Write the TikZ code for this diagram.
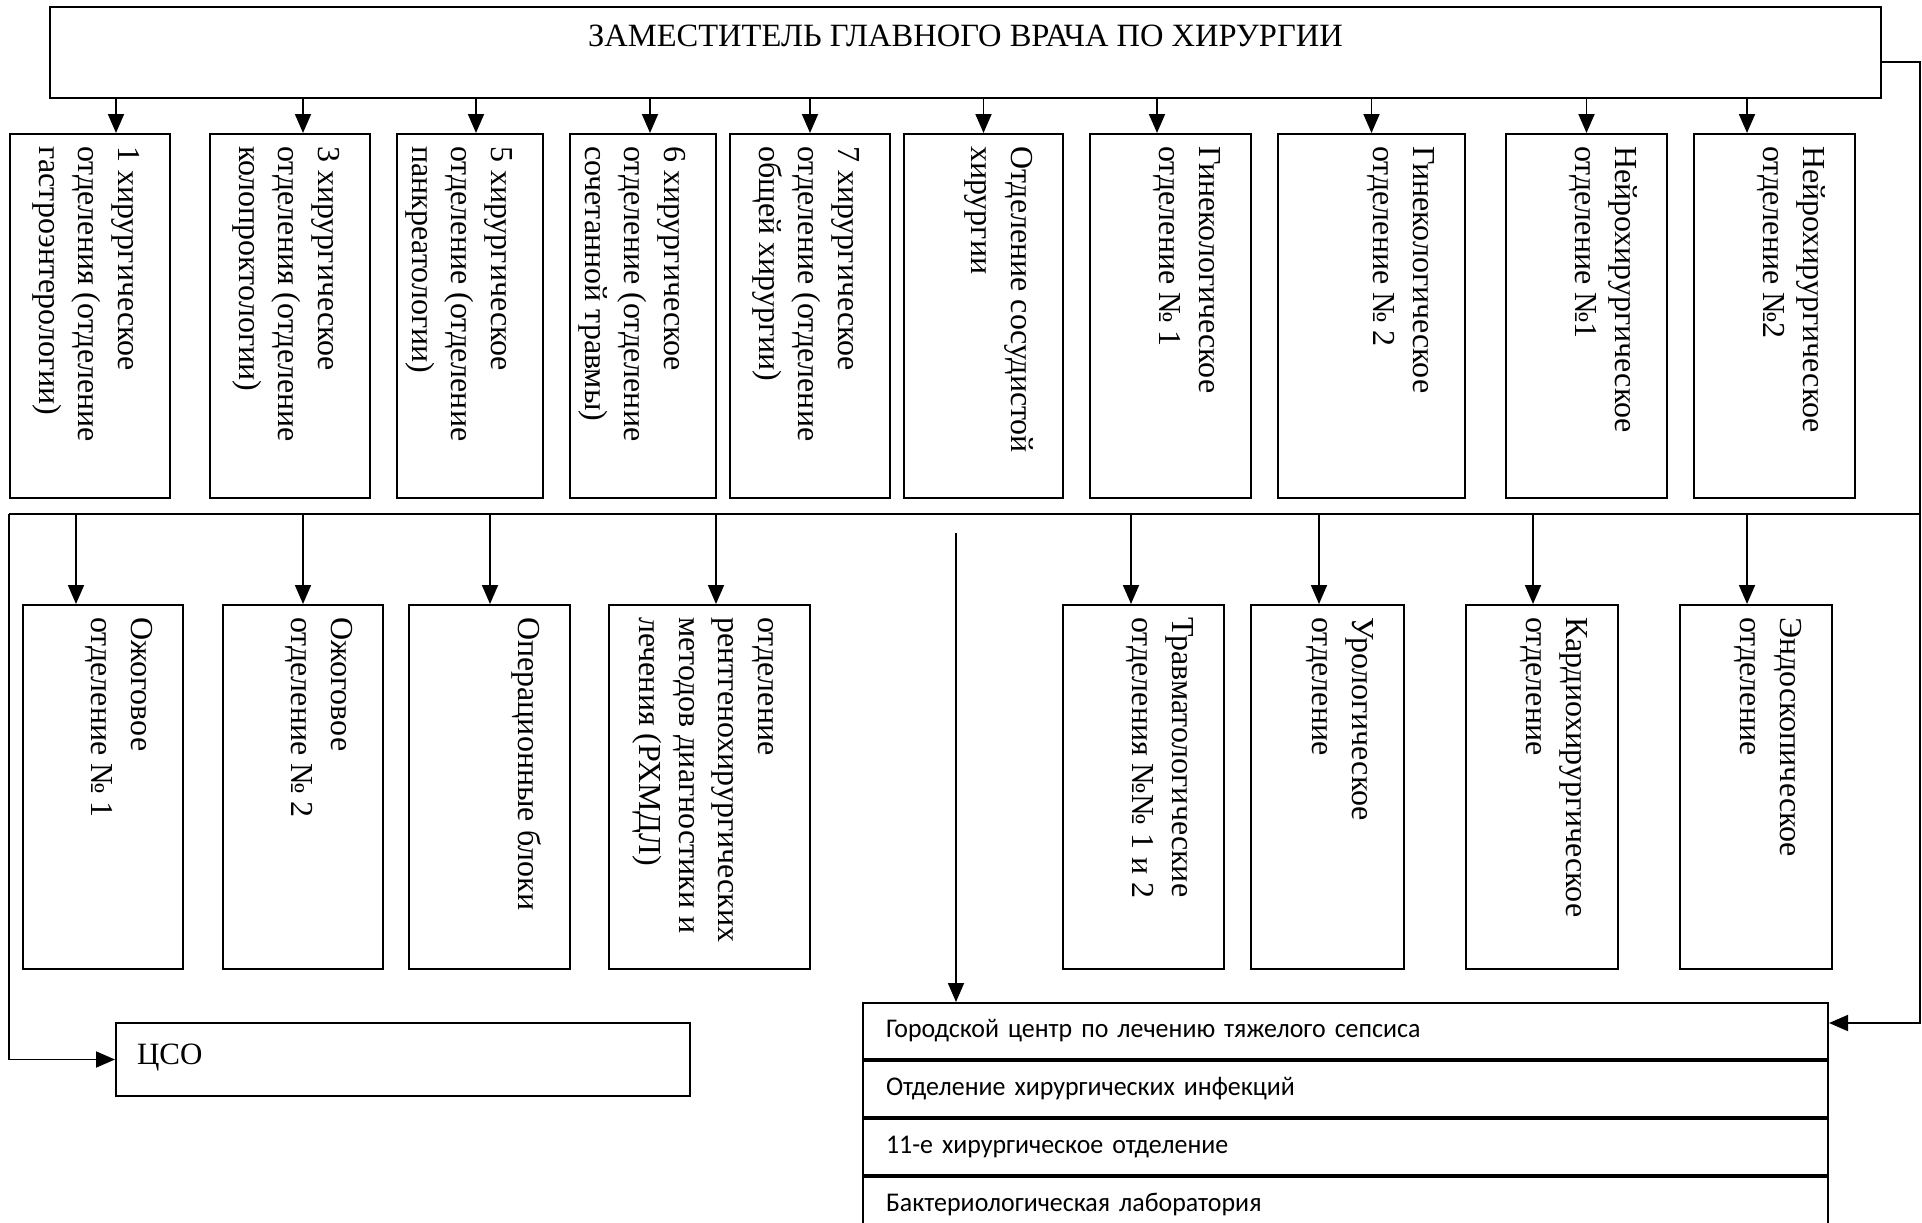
\documentclass[tikz,border=0pt]{standalone}
\usepackage{fontspec}
\setmainfont{Liberation Serif}
\newfontfamily\calfont[FakeStretch=0.96]{Carlito}
\usetikzlibrary{arrows.meta,calc}
\begin{document}
\begin{tikzpicture}[x=1pt,y=-1pt,
  box/.style={draw, line width=2pt, anchor=north west, inner sep=0pt, minimum height=364pt},
  vtext/.style={rotate=-90, anchor=north west, align=left, inner sep=0pt, font=\fontsize{32}{39.5}\selectfont},
  ln/.style={line width=1.8pt},
  arr/.style={line width=1.8pt, -{Triangle[length=19pt,width=16pt]}},
  row/.style={draw, line width=2pt, anchor=north west, inner xsep=23pt, inner ysep=0pt,
    text height=34pt, text depth=22pt, text width=919pt, align=left,
    font=\calfont\fontsize{27}{34}\selectfont}
]
\path[use as bounding box] (0,0) rectangle (1922,1223);
\clip (0,0) rectangle (1922,1223);

% top box
\node[draw, line width=2pt, anchor=north west, inner sep=0pt, minimum width=1831pt, minimum height=91pt] (top) at (49,6) {};
\node[anchor=base, inner sep=0pt, font=\fontsize{32.5}{38}\selectfont] (topt) at ([yshift=-41pt]top.north) {ЗАМЕСТИТЕЛЬ ГЛАВНОГО ВРАЧА ПО ХИРУРГИИ};

% row 1
\node[box, minimum width=160pt] (b1) at (9,133) {};
\node[box, minimum width=160pt] (b3) at (209,133) {};
\node[box, minimum width=146pt] (b5) at (396,133) {};
\node[box, minimum width=146pt] (b6) at (569,133) {};
\node[box, minimum width=160pt] (b7) at (729,133) {};
\node[box, minimum width=159pt] (bs) at (903,133) {};
\node[box, minimum width=161pt] (g1) at (1089,133) {};
\node[box, minimum width=187pt] (g2) at (1277,133) {};
\node[box, minimum width=161pt] (n1) at (1505,133) {};
\node[box, minimum width=161pt] (n2) at (1693,133) {};

\node[vtext] (b1t) at ([shift={(-25pt,-13pt)}]b1.north east) {\strut 1 хирургическое\\отделения (отделение\\гастроэнтерологии)};
\node[vtext] (b3t) at ([shift={(-25pt,-13pt)}]b3.north east) {\strut 3 хирургическое\\отделения (отделение\\колопроктологии)};
\node[vtext] (b5t) at ([shift={(-25pt,-13pt)}]b5.north east) {\strut 5 хирургическое\\отделение (отделение\\панкреатологии)};
\node[vtext] (b6t) at ([shift={(-25pt,-13pt)}]b6.north east) {\strut 6 хирургическое\\отделение (отделение\\сочетанной травмы)};
\node[vtext] (b7t) at ([shift={(-25pt,-13pt)}]b7.north east) {\strut 7 хирургическое\\отделение (отделение\\общей хирургии)};
\node[vtext] (bst) at ([shift={(-25pt,-13pt)}]bs.north east) {\strut Отделение сосудистой\\хирургии};
\node[vtext] (g1t) at ([shift={(-25pt,-13pt)}]g1.north east) {\strut Гинекологическое\\отделение № 1};
\node[vtext] (g2t) at ([shift={(-25pt,-13pt)}]g2.north east) {\strut Гинекологическое\\отделение № 2};
\node[vtext] (n1t) at ([shift={(-25pt,-13pt)}]n1.north east) {\strut Нейрохирургическое\\отделение №1};
\node[vtext] (n2t) at ([shift={(-25pt,-13pt)}]n2.north east) {\strut Нейрохирургическое\\отделение №2};

% arrows row 1
\foreach \n/\s in {b1/26,b3/13,b5/6,b6/7,b7/0,bs/0,g1/-13.5,g2/0,n1/0,n2/-27.5}{
  \draw[arr] ([xshift=\s pt]\n.north |- top.south) -- ([xshift=\s pt]\n.north);
}

% row 2
\node[box, minimum width=160pt] (o1) at (22,604) {};
\node[box, minimum width=160pt] (o2) at (222,604) {};
\node[box, minimum width=161pt] (opb) at (408,604) {};
\node[box, minimum width=201pt] (rx) at (608,604) {};
\node[box, minimum width=161pt] (tr) at (1062,604) {};
\node[box, minimum width=153pt] (ur) at (1250,604) {};
\node[box, minimum width=152pt] (kd) at (1465,604) {};
\node[box, minimum width=152pt] (en) at (1679,604) {};

\node[vtext] (o1t) at ([shift={(-25pt,-13pt)}]o1.north east) {\strut Ожоговое\\отделение № 1};
\node[vtext] (o2t) at ([shift={(-25pt,-13pt)}]o2.north east) {\strut Ожоговое\\отделение № 2};
\node[vtext] (opbt) at ([shift={(-25pt,-13pt)}]opb.north east) {\strut Операционные блоки};
\node[vtext] (rxt) at ([shift={(-25pt,-13pt)}]rx.north east) {\strut отделение\\рентгенохирургических\\методов диагностики и\\лечения (РХМДЛ)};
\node[vtext] (trt) at ([shift={(-25pt,-13pt)}]tr.north east) {\strut Травматологические\\отделения №№ 1 и 2};
\node[vtext] (urt) at ([shift={(-25pt,-13pt)}]ur.north east) {\strut Урологическое\\отделение};
\node[vtext] (kdt) at ([shift={(-25pt,-13pt)}]kd.north east) {\strut Кардиохирургическое\\отделение};
\node[vtext] (ent) at ([shift={(-25pt,-13pt)}]en.north east) {\strut Эндоскопическое\\отделение};

% bus
\coordinate (lbus) at (9,514);
\coordinate (rbus) at (1920,514);
\draw[ln] (lbus) -- (rbus);
\foreach \n/\s in {o1/-27,o2/0,opb/0.5,rx/6.5,tr/-12.5,ur/-8.5,kd/-9,en/-9}{
  \draw[arr] ([xshift=\s pt]\n.north |- lbus) -- ([xshift=\s pt]\n.north);
}

% CSO
\node[draw, line width=2pt, anchor=north west, inner xsep=21pt, inner ysep=0pt,
  text height=41pt, text depth=32pt, text width=532pt, align=left,
  font=\fontsize{31}{36}\selectfont] (cso) at (115,1022) {ЦСО};
\draw[arr] (lbus) |- (cso.west);

% list box
\node[row] (l1) at (862,1002) {Городской центр по лечению тяжелого сепсиса};
\node[row] (l2) at (l1.south west) {Отделение хирургических инфекций};
\node[row] (l3) at (l2.south west) {11-е хирургическое отделение};
\node[row, text depth=60pt] (l4) at (l3.south west) {Бактериологическая лаборатория};

\draw[arr] ([yshift=-9.5pt]top.east) -| (rbus) |- ([yshift=8pt]l1.east);
\coordinate (fa) at (956,533);
\draw[arr] (fa) -- (fa |- l1.north);
\end{tikzpicture}
\end{document}
